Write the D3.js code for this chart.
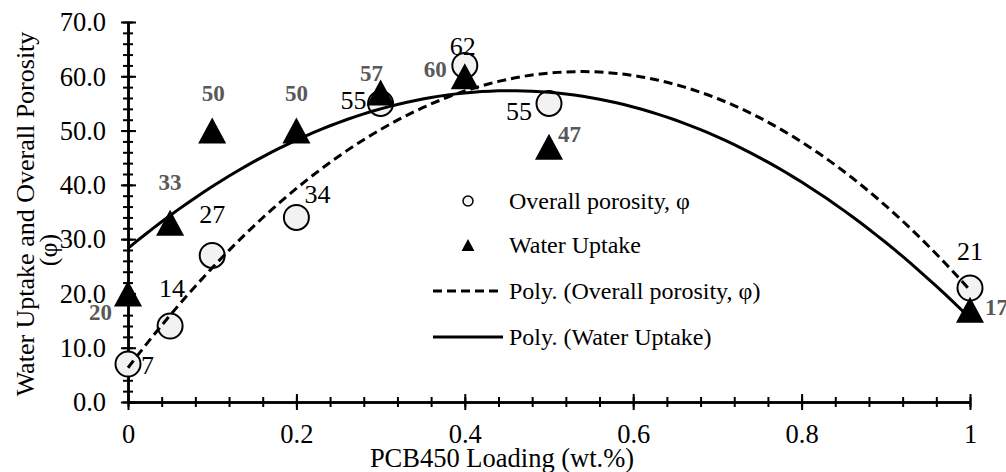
<!DOCTYPE html>
<html>
<head>
<meta charset="utf-8">
<script src="https://cdn.jsdelivr.net/npm/d3@7"></script>
<style>
  html, body { margin: 0; padding: 0; background: #fff; }
  svg text { font-family: "Liberation Serif", "Times New Roman", serif; }
</style>
</head>
<body>
<div id="chart"></div>
<script>
// loading levels (wt.%) and measured values
const loading = [0, 0.05, 0.1, 0.2, 0.3, 0.4, 0.5, 1];
const porosity = [7, 14, 27, 34, 55, 62, 55, 21];
const waterUptake = [20, 33, 50, 50, 57, 60, 47, 17];
const xTickLabels = ["0", "0.2", "0.4", "0.6", "0.8", "1"];
const yTickLabels = ["0.0", "10.0", "20.0", "30.0", "40.0", "50.0", "60.0", "70.0"];

const width = 1006, height = 472;
const x = d3.scaleLinear().domain([0, 1]).range([128, 970]);
const y = d3.scaleLinear().domain([0, 70]).range([402, 22]);

const svg = d3.select("#chart").append("svg")
    .attr("width", width)
    .attr("height", height);

// second order least squares fit, like a spreadsheet "Poly." trendline
function polyFit(xs, ys) {
    let s = [0, 0, 0, 0, 0], t = [0, 0, 0];
    xs.forEach((xv, i) => {
        for (let k = 0; k < 5; k++) s[k] += Math.pow(xv, k);
        for (let k = 0; k < 3; k++) t[k] += ys[i] * Math.pow(xv, k);
    });
    const m = [[s[0], s[1], s[2], t[0]], [s[1], s[2], s[3], t[1]], [s[2], s[3], s[4], t[2]]];
    for (let i = 0; i < 3; i++) {
        for (let j = i + 1; j < 3; j++) {
            const f = m[j][i] / m[i][i];
            for (let k = i; k < 4; k++) m[j][k] -= f * m[i][k];
        }
    }
    const c = [0, 0, 0];
    for (let i = 2; i >= 0; i--) {
        let v = m[i][3];
        for (let k = i + 1; k < 3; k++) v -= m[i][k] * c[k];
        c[i] = v / m[i][i];
    }
    return xv => c[0] + c[1] * xv + c[2] * xv * xv;
}

// axes: minor ticks first, then majors with labels
const yMinor = svg.append("g").attr("transform", `translate(${x(0)},0)`)
    .call(d3.axisLeft(y).tickValues(d3.range(0, 70.1, 2)).tickSize(0).tickFormat(""));
yMinor.selectAll(".tick line").attr("x1", -5).attr("x2", 5);
const yMajor = svg.append("g").attr("transform", `translate(${x(0)},0)`)
    .call(d3.axisLeft(y).tickValues(d3.range(0, 70.1, 10)).tickSize(0)
        .tickFormat((d, i) => yTickLabels[i]));
yMajor.selectAll(".tick line").attr("x1", -7).attr("x2", 8);
yMajor.selectAll(".tick text").attr("x", -22).attr("dy", "0.33em");

const xMinor = svg.append("g").attr("transform", `translate(0,${y(0)})`)
    .call(d3.axisBottom(x).tickValues(d3.range(0, 1.001, 0.04)).tickSize(0).tickFormat(""));
xMinor.selectAll(".tick line").attr("y1", -5).attr("y2", 5);
const xMajor = svg.append("g").attr("transform", `translate(0,${y(0)})`)
    .call(d3.axisBottom(x).tickValues(d3.range(0, 1.001, 0.2)).tickSize(0)
        .tickFormat((d, i) => xTickLabels[i]));
xMajor.selectAll(".tick line").attr("y1", -8).attr("y2", 8);
xMajor.selectAll(".tick text").attr("y", 41).attr("dy", 0);

[yMinor, yMajor, xMinor, xMajor].forEach(g => g.attr("font-family", null).attr("font-size", null));
svg.selectAll(".domain").attr("stroke", "#000").attr("stroke-width", 2.5);
svg.selectAll(".tick line").attr("stroke", "#000").attr("stroke-width", 2);
svg.selectAll(".tick text").attr("font-size", 26.5).attr("fill", "#000");

// axis titles
svg.append("text")
    .attr("x", 502).attr("y", 467)
    .attr("text-anchor", "middle").attr("font-size", 26.5)
    .text("PCB450 Loading (wt.%)");
const yTitle = svg.append("text")
    .attr("transform", "rotate(-90)")
    .attr("text-anchor", "middle").attr("font-size", 26);
yTitle.append("tspan").attr("x", -214).attr("y", 34).text("Water Uptake and Overall Porosity");
yTitle.append("tspan").attr("x", -250).attr("y", 57).text("(φ)");

// markers
const points = loading.map((l, i) => ({ l, p: porosity[i], w: waterUptake[i] }));
const triangle = (cx, cy, h) => `M${cx},${cy - h}L${cx + h * 1.08},${cy + h}L${cx - h * 1.08},${cy + h}Z`;

svg.append("g").selectAll("circle")
    .data(points).join("circle")
    .attr("cx", d => x(d.l)).attr("cy", d => y(d.p)).attr("r", 12.5)
    .attr("fill", "#f2f2f2").attr("stroke", "#000").attr("stroke-width", 2);

svg.append("g").selectAll("path")
    .data(points).join("path")
    .attr("d", d => triangle(x(d.l), y(d.w), 13))
    .attr("fill", "#000");

// trendlines
const xs = d3.range(0, 1.0001, 0.01);
const fitP = polyFit(loading, porosity);
const fitW = polyFit(loading, waterUptake);
const line = f => d3.line().x(d => x(d)).y(d => y(f(d)))(xs);

svg.append("path").attr("d", line(fitP))
    .attr("fill", "none").attr("stroke", "#000").attr("stroke-width", 3)
    .attr("stroke-dasharray", "9,5");
svg.append("path").attr("d", line(fitW))
    .attr("fill", "none").attr("stroke", "#000").attr("stroke-width", 3);

// value labels (offsets from each marker centre)
const porosityLabelPos = [
    [13, 10, "start"], [2, -29, "middle"], [0, -32, "middle"], [8, -14, "start"],
    [-14, 6, "end"], [-2, -10, "middle"], [-17, 17, "end"], [0, -28, "middle"]
];
const uptakeLabelPos = [
    [-16, 27, "end"], [0, -33, "middle"], [1, -30, "middle"], [0, -30, "middle"],
    [-9, -12, "middle"], [-18, 1, "end"], [9, -5, "start"], [15, 5, "start"]
];

svg.append("g").selectAll("text")
    .data(points).join("text")
    .attr("x", (d, i) => x(d.l) + porosityLabelPos[i][0])
    .attr("y", (d, i) => y(d.p) + porosityLabelPos[i][1])
    .attr("text-anchor", (d, i) => porosityLabelPos[i][2])
    .attr("font-size", 26).attr("fill", "#000")
    .text(d => d.p);

svg.append("g").selectAll("text")
    .data(points).join("text")
    .attr("x", (d, i) => x(d.l) + uptakeLabelPos[i][0])
    .attr("y", (d, i) => y(d.w) + uptakeLabelPos[i][1])
    .attr("text-anchor", (d, i) => uptakeLabelPos[i][2])
    .attr("font-size", 23).attr("font-weight", "bold").attr("fill", "#595959")
    .text(d => d.w);

// legend
const legend = svg.append("g");
const rows = [
    { y: 201, label: "Overall porosity, φ" },
    { y: 245, label: "Water Uptake" },
    { y: 291, label: "Poly. (Overall porosity, φ)" },
    { y: 337, label: "Poly. (Water Uptake)" }
];
legend.append("circle").attr("cx", 468).attr("cy", rows[0].y).attr("r", 5)
    .attr("fill", "#f2f2f2").attr("stroke", "#000").attr("stroke-width", 1.5);
legend.append("path").attr("d", triangle(468, rows[1].y, 6)).attr("fill", "#000");
legend.append("line").attr("x1", 433).attr("x2", 503).attr("y1", rows[2].y).attr("y2", rows[2].y)
    .attr("stroke", "#000").attr("stroke-width", 3).attr("stroke-dasharray", "9,5");
legend.append("line").attr("x1", 433).attr("x2", 503).attr("y1", rows[3].y).attr("y2", rows[3].y)
    .attr("stroke", "#000").attr("stroke-width", 3);
legend.selectAll("text")
    .data(rows).join("text")
    .attr("x", 509).attr("y", d => d.y).attr("dy", "0.33em")
    .attr("font-size", 24)
    .text(d => d.label);
</script>
</body>
</html>
